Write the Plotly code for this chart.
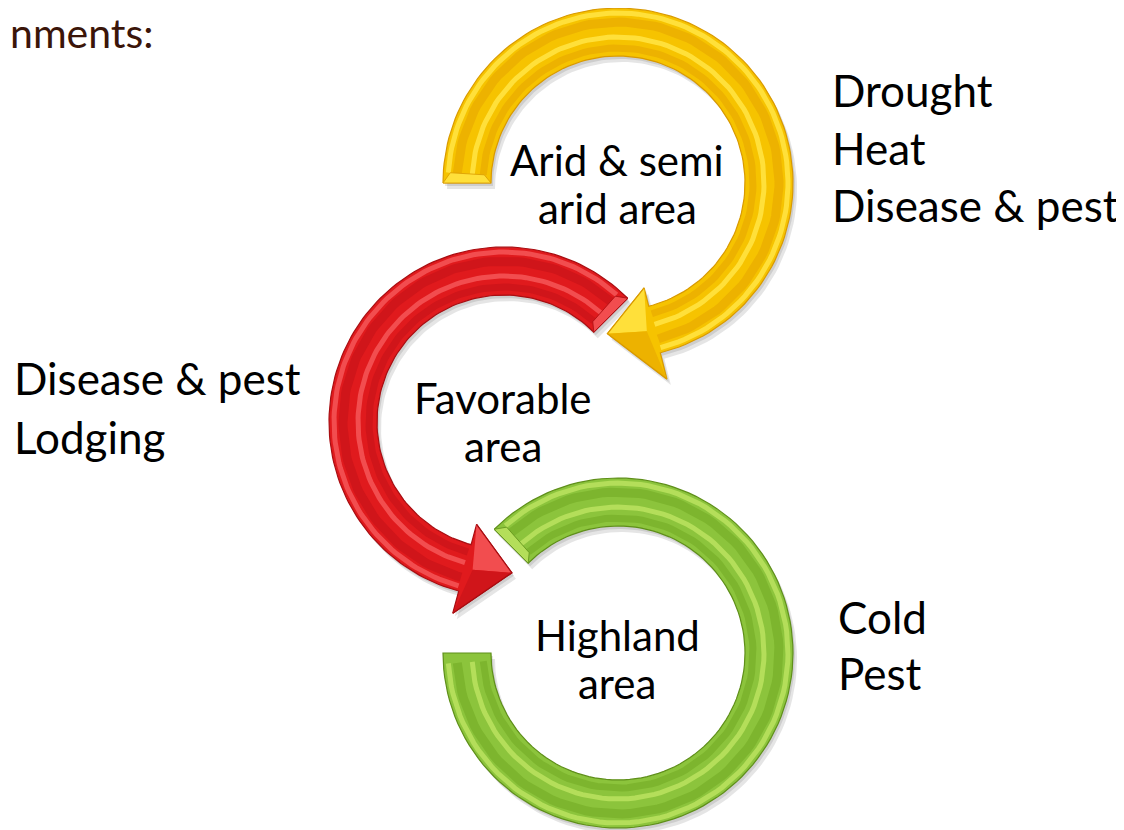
import numpy as np
import plotly.graph_objects as go

W, H = 1124, 830
OFF = 8  # page body margin of the html page

# ---- diagram data ----
ring_lines = [["Arid & semi", "arid area"], ["Favorable", "area"], ["Highland", "area"]]
ring_text_x = [617, 503, 617]
ring_text_y0 = [160, 398, 635]
ring_text_dy = 47.5
ring_cx = [618, 504, 618]
ring_cy = [183, 422, 653]
ring_r_out = [175, 175, 175]
ring_r_in = [127, 127, 127]
arc_start = [180, 45, 135]      # degrees, y-up convention
arc_end = [-76, 255, -180]
head_tip = [-94, 273, None]
head_r_in = [108, 106, None]
head_r_out = [202, 198, None]
base_col = ["#F6C300", "#E01A1D", "#8CC43C"]
light_col = ["#FFE03A", "#F24D4F", "#B4DE5A"]
dark_col = ["#D99A00", "#A80E12", "#5F8F1A"]
mid_col = ["#EDB200", "#D0151A", "#7DB52E"]

side_lines = [
    ["Drought", "Heat", "Disease & pest"],
    ["Disease & pest", "Lodging"],
    ["Cold", "Pest"],
]
side_x = [830, 12, 836]
side_y0 = [90, 378, 617]
side_dy = [57.5, 59, 56]

title_text = "nments:"


def pt(cx, cy, r, a):
    t = np.radians(a)
    return cx + r * np.cos(t), cy - r * np.sin(t)


def arc(cx, cy, r, a0, a1, n=120):
    a = np.linspace(a0, a1, n)
    t = np.radians(a)
    return list(cx + r * np.cos(t)), list(cy - r * np.sin(t))


fig = go.Figure()


def poly(xs, ys, fill, line=None, lw=0):
    fig.add_trace(go.Scatter(
        x=xs + [xs[0]], y=ys + [ys[0]], mode="lines", fill="toself",
        fillcolor=fill, line=dict(color=line or fill, width=lw),
        hoverinfo="skip", showlegend=False))


def line(xs, ys, color, w):
    fig.add_trace(go.Scatter(
        x=xs, y=ys, mode="lines", line=dict(color=color, width=w),
        hoverinfo="skip", showlegend=False))


def shape_outline(i, dx=0.0, dy=0.0):
    cx, cy = ring_cx[i] + dx, ring_cy[i] + dy
    ro, ri = ring_r_out[i], ring_r_in[i]
    a0, a1 = arc_start[i], arc_end[i]
    ox, oy = arc(cx, cy, ro, a0, a1)
    ix, iy = arc(cx, cy, ri, a1, a0)
    xs, ys = ox[:], oy[:]
    if head_tip[i] is not None:
        bx, by = pt(cx, cy, head_r_out[i], a1)
        tx, ty = pt(cx, cy, (ro + ri) / 2, head_tip[i])
        cx2, cy2 = pt(cx, cy, head_r_in[i], a1)
        xs += [bx, tx, cx2]
        ys += [by, ty, cy2]
    xs += ix
    ys += iy
    return xs, ys


# shadows
for i in range(3):
    xs, ys = shape_outline(i, 4, 6)
    poly(xs, ys, "rgba(0,0,0,0.10)")
    xs, ys = shape_outline(i, 2, 3)
    poly(xs, ys, "rgba(0,0,0,0.10)")

for i in range(3):
    cx, cy = ring_cx[i], ring_cy[i]
    ro, ri = ring_r_out[i], ring_r_in[i]
    a0, a1 = arc_start[i], arc_end[i]
    sgn = 1 if a1 > a0 else -1
    xs, ys = shape_outline(i)
    poly(xs, ys, base_col[i], dark_col[i], 1.2)

    # bevel stripes along the body
    e0 = a0 + sgn * 3.5
    e1 = a1 - sgn * (0.5 if head_tip[i] is not None else 3.5)
    sx, sy = arc(cx, cy, ro - 5, e0, e1)
    line(sx, sy, light_col[i], 5)
    sx, sy = arc(cx, cy, ro - 14, e0, e1)
    line(sx, sy, mid_col[i], 9)
    sx, sy = arc(cx, cy, ri + 19, e0, e1)
    line(sx, sy, light_col[i], 5)
    sx, sy = arc(cx, cy, ri + 8, e0, e1)
    line(sx, sy, mid_col[i], 7)

    # bevel at the tail end
    p1 = pt(cx, cy, ro, a0)
    p2 = pt(cx, cy, ri, a0)
    p3 = pt(cx, cy, ri + 7, a0 + sgn * 3.5)
    p4 = pt(cx, cy, ro - 7, a0 + sgn * 3.5)
    poly([p1[0], p2[0], p3[0], p4[0]], [p1[1], p2[1], p3[1], p4[1]],
         light_col[i], dark_col[i], 0.8)

    # arrow head facets
    if head_tip[i] is not None:
        rm = (ro + ri) / 2
        T = pt(cx, cy, rm, head_tip[i])
        Bo = pt(cx, cy, head_r_out[i], a1)
        Bi = pt(cx, cy, head_r_in[i], a1)
        M = pt(cx, cy, rm, a1 + sgn * 3)
        poly([T[0], Bi[0], M[0]], [T[1], Bi[1], M[1]], light_col[i])
        poly([T[0], Bo[0], M[0]], [T[1], Bo[1], M[1]], mid_col[i])
        line([Bo[0], T[0], Bi[0]], [Bo[1], T[1], Bi[1]], dark_col[i], 1.2)

# ring labels
for i in range(3):
    for j, t in enumerate(ring_lines[i]):
        fig.add_annotation(x=ring_text_x[i], y=ring_text_y0[i] + j * ring_text_dy,
                           text=t, showarrow=False,
                           xanchor="center", yanchor="middle",
                           font=dict(family="Lato", size=42, color="#000000"))

# side labels
for k, lines in enumerate(side_lines):
    for j, t in enumerate(lines):
        fig.add_annotation(x=side_x[k], y=side_y0[k] + j * side_dy[k], text=t,
                           showarrow=False, xanchor="left", yanchor="middle",
                           font=dict(family="Lato", size=44, color="#000000"))

fig.add_annotation(x=OFF + 0, y=32, text=title_text, showarrow=False,
                   xanchor="left", yanchor="middle",
                   font=dict(family="Lato", size=41, color="#3B1509"))

fig.update_layout(
    width=W, height=H, margin=dict(l=0, r=0, t=0, b=0),
    paper_bgcolor="white", plot_bgcolor="white", showlegend=False,
    xaxis=dict(range=[OFF, W + OFF], visible=False, fixedrange=True),
    yaxis=dict(range=[H + OFF, OFF], visible=False, fixedrange=True),
)

fig.write_html("out.html")
